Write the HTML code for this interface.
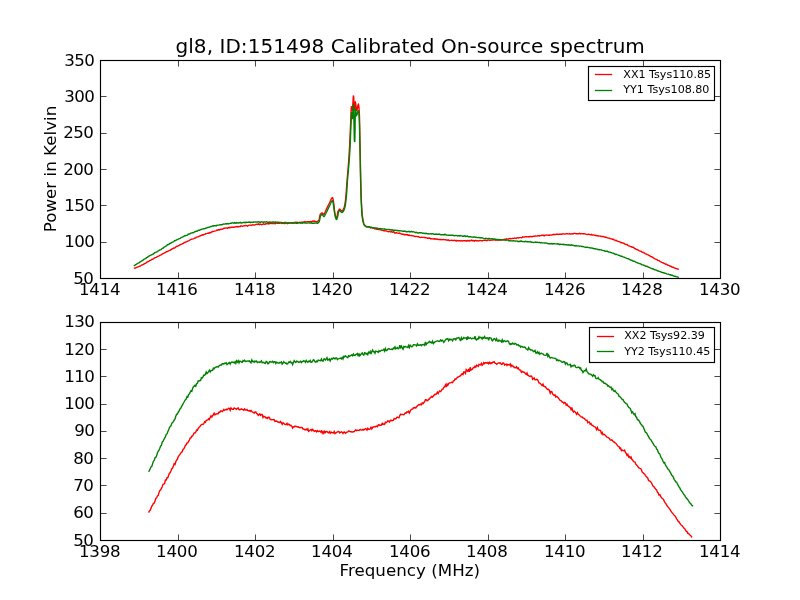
<!DOCTYPE html>
<html lang="en"><head><meta charset="utf-8"><title>gl8, ID:151498 Calibrated On-source spectrum</title>
<style>
html,body{margin:0;padding:0;background:#fff;}
body{width:800px;height:600px;overflow:hidden;}
svg{display:block;}
text{font-family:"DejaVu Sans", "Liberation Sans", sans-serif;fill:#000;}
.tk{font-size:16.67px;letter-spacing:-0.2px;}
.yk{letter-spacing:-0.6px;}
.lb{font-size:16.67px;letter-spacing:0.03px;}
.ti{font-size:20px;letter-spacing:0.05px;}
.lg{font-size:11.11px;letter-spacing:0px;}
.ax{stroke:#000;stroke-width:1.15;fill:none;stroke-linejoin:miter;}
.cv{fill:none;stroke-width:1.4;stroke-linejoin:miter;stroke-miterlimit:3;stroke-linecap:butt;}
</style></head><body>
<svg width="800" height="600" viewBox="0 0 800 600">
<rect x="0" y="0" width="800" height="600" fill="#ffffff"/>
<clipPath id="c1"><rect x="100.5" y="60.5" width="620.0" height="218.0"/></clipPath>
<g clip-path="url(#c1)">
<path class="cv" stroke="#ff0000" d="M133.8,268.3L134.6,268.1L135.4,268.0L136.2,267.5L137.0,267.1L137.8,267.0L138.6,266.7L139.4,266.3L140.2,266.0L141.0,265.5L141.8,264.9L142.6,264.9L143.4,264.4L144.2,263.9L145.0,263.4L145.8,263.1L146.6,262.4L147.4,261.9L148.2,261.5L149.0,261.2L149.8,260.4L150.6,260.4L151.4,259.7L152.2,259.2L153.0,259.1L153.8,258.5L154.6,257.9L155.4,257.6L156.2,257.4L157.0,257.0L157.8,256.4L158.6,256.1L159.4,255.7L160.2,255.1L161.0,254.8L161.8,254.3L162.6,253.8L163.4,253.4L164.2,253.1L165.0,252.6L165.8,252.1L166.6,251.7L167.4,251.6L168.2,251.0L169.0,250.7L169.8,250.3L170.6,249.8L171.4,249.7L172.2,248.7L173.0,248.6L173.8,248.0L174.6,248.0L175.4,247.5L176.2,246.5L177.0,246.2L177.8,246.1L178.6,245.7L179.4,245.3L180.2,244.7L181.0,244.4L181.8,244.1L182.6,243.6L183.4,243.4L184.2,242.4L185.0,242.5L185.8,241.9L186.6,241.9L187.4,241.3L188.2,240.8L189.0,240.6L189.8,240.0L190.6,239.7L191.4,239.2L192.2,239.1L193.0,238.9L193.8,238.6L194.6,238.1L195.4,238.0L196.2,237.4L197.0,237.1L197.8,236.9L198.6,236.7L199.4,236.1L200.2,235.8L201.0,235.5L201.8,235.3L202.6,234.8L203.4,234.9L204.2,234.3L205.0,234.2L205.8,233.7L206.6,233.6L207.4,233.4L208.2,233.0L209.0,233.2L209.8,232.6L210.6,232.7L211.4,232.2L212.2,231.7L213.0,231.5L213.8,231.4L214.6,231.1L215.4,230.9L216.2,230.6L217.0,230.1L217.8,230.2L218.6,229.6L219.4,229.9L220.2,229.5L221.0,229.3L221.8,229.2L222.6,229.1L223.4,228.5L224.2,228.3L225.0,228.3L225.8,227.9L226.6,227.9L227.4,228.4L228.2,227.6L229.0,227.9L229.8,227.3L230.6,227.5L231.4,227.3L232.2,227.2L233.0,227.3L233.8,227.4L234.6,227.0L235.4,226.9L236.2,226.5L237.0,226.8L237.8,226.5L238.6,226.7L239.4,226.4L240.2,226.7L241.0,225.8L241.8,226.1L242.6,226.3L243.4,225.9L244.2,225.7L245.0,225.7L245.8,225.4L246.6,225.7L247.4,226.1L248.2,225.7L249.0,225.1L249.8,225.1L250.6,225.1L251.4,225.4L252.2,224.9L253.0,224.8L253.8,225.1L254.6,225.0L255.4,224.7L256.2,224.4L257.0,224.2L257.8,224.4L258.6,223.9L259.4,224.6L260.2,224.2L261.0,224.4L261.8,224.7L262.6,224.4L263.4,223.8L264.2,224.2L265.0,224.3L265.8,223.8L266.6,223.7L267.4,223.8L268.2,223.4L269.0,224.1L269.8,223.1L270.6,223.4L271.4,223.5L272.2,223.5L273.0,223.5L273.8,223.5L274.6,223.4L275.4,223.7L276.2,222.8L277.0,223.3L277.8,223.1L278.6,223.3L279.4,223.3L280.2,223.0L281.0,223.0L281.8,223.4L282.6,223.2L283.4,223.0L284.2,223.6L285.0,223.6L285.8,222.7L286.6,223.1L287.4,223.6L288.2,223.2L289.0,223.0L289.8,222.9L290.6,222.7L291.4,222.8L292.2,222.7L293.0,222.9L293.8,222.6L294.6,222.5L295.4,222.3L296.2,222.5L297.0,222.3L297.8,222.4L298.6,222.6L299.4,222.4L300.2,222.4L301.0,222.3L301.8,222.2L302.6,222.1L303.4,222.0L304.2,222.2L305.0,221.7L305.8,222.2L306.6,221.9L307.4,221.6L308.2,221.6L309.0,221.6L309.8,221.7L310.6,221.5L311.4,221.9L312.2,221.4L313.0,221.0L313.8,221.4L314.6,221.1L315.4,221.5L316.2,221.8L317.0,221.7L317.5,221.5L317.7,221.4L317.9,221.3L318.1,221.1L318.3,220.8L318.5,220.5L318.7,220.1L318.9,219.7L319.0,219.5L319.1,219.2L319.3,218.5L319.5,217.6L319.7,216.5L319.9,215.6L320.1,214.8L320.2,214.5L320.3,214.4L320.5,214.1L320.7,213.9L320.9,213.7L321.1,213.5L321.3,213.3L321.5,213.1L321.7,213.1L321.9,213.0L322.0,213.0L322.1,213.0L322.3,213.1L322.5,213.2L322.7,213.4L322.9,213.5L323.1,213.7L323.3,213.9L323.5,214.1L323.7,214.2L323.9,214.2L324.0,214.2L324.1,214.2L324.3,214.0L324.5,213.5L324.7,213.0L324.9,212.4L325.1,211.9L325.2,211.5L325.3,211.4L325.5,211.0L325.7,210.6L325.9,210.1L326.1,209.7L326.3,209.3L326.5,208.9L326.7,208.5L326.9,208.1L327.1,207.7L327.3,207.3L327.5,206.9L327.7,206.5L327.9,206.1L328.1,205.7L328.3,205.3L328.5,205.0L328.7,204.6L328.9,204.2L329.0,204.0L329.1,203.8L329.3,203.4L329.5,203.0L329.7,202.5L329.9,202.0L330.1,201.6L330.3,201.1L330.5,200.6L330.7,200.2L330.9,199.7L331.1,199.3L331.3,198.9L331.5,198.6L331.7,198.3L331.9,198.1L332.1,197.9L332.3,197.8L332.5,197.8L332.5,197.8L332.7,198.0L332.9,198.6L333.1,199.6L333.3,200.7L333.5,201.9L333.6,202.5L333.7,203.1L333.9,204.8L334.1,206.7L334.3,208.7L334.5,210.6L334.7,212.0L334.7,212.0L334.9,213.2L335.1,214.2L335.3,215.2L335.5,215.9L335.7,216.5L335.7,216.5L335.9,216.9L336.1,217.3L336.3,217.6L336.5,217.8L336.6,217.8L336.7,217.7L336.9,217.2L337.1,216.2L337.3,215.0L337.5,213.8L337.7,212.6L337.9,211.8L338.0,211.5L338.1,211.3L338.3,210.9L338.5,210.5L338.7,210.2L338.9,209.9L339.1,209.6L339.3,209.4L339.5,209.3L339.7,209.3L339.8,209.2L339.9,209.3L340.1,209.4L340.3,209.5L340.5,209.7L340.7,209.9L340.9,210.2L341.1,210.4L341.3,210.6L341.5,210.8L341.7,210.9L341.9,211.0L342.0,211.0L342.1,211.0L342.3,210.9L342.5,210.7L342.7,210.4L342.9,210.1L343.1,209.8L343.2,209.5L343.3,209.4L343.5,209.0L343.7,208.6L343.9,208.0L344.1,207.4L344.3,206.7L344.5,206.0L344.5,206.0L344.7,205.1L344.9,204.1L345.1,202.9L345.3,201.5L345.5,200.0L345.5,200.0L345.7,198.2L345.9,196.1L346.0,195.0L346.1,193.8L346.3,191.2L346.5,188.4L346.7,185.5L346.9,182.7L347.1,180.0L347.1,180.0L347.3,177.6L347.5,175.3L347.7,173.1L347.9,170.8L348.1,168.5L348.3,166.0L348.3,166.0L348.5,163.3L348.7,160.6L348.9,157.7L349.1,154.7L349.3,151.4L349.5,148.0L349.5,148.0L349.7,144.1L349.9,139.8L350.1,135.3L350.3,130.6L350.5,126.1L350.6,124.0L350.7,121.7L350.9,116.6L351.1,111.4L351.3,107.6L351.5,106.0L351.5,106.0L351.7,106.8L351.9,108.5L352.1,110.2L352.3,111.0L352.3,111.0L352.5,109.9L352.7,107.0L352.9,103.3L353.1,99.5L353.3,96.6L353.5,95.5L353.5,95.5L353.7,97.1L353.9,100.8L354.1,105.2L354.3,108.9L354.5,110.5L354.5,110.5L354.7,109.5L354.9,107.1L355.1,104.4L355.3,102.5L355.4,102.2L355.5,102.4L355.7,103.3L355.9,104.8L356.1,106.6L356.3,108.4L356.5,109.8L356.7,110.5L356.8,110.5L356.9,110.4L357.1,109.8L357.3,108.9L357.5,107.8L357.7,106.7L357.9,105.6L358.1,104.8L358.3,104.3L358.4,104.2L358.5,104.4L358.7,105.3L358.9,107.0L359.1,109.3L359.3,112.0L359.3,112.0L359.5,117.3L359.7,126.2L359.9,136.9L360.1,147.6L360.1,150.0L360.3,157.6L360.5,168.5L360.7,178.7L360.9,185.0L360.9,186.8L361.1,193.5L361.3,199.4L361.5,204.0L361.6,205.0L361.7,207.6L361.9,210.5L362.1,213.0L362.3,215.0L362.3,215.0L362.5,216.7L362.7,218.2L362.9,219.5L363.1,220.6L363.3,221.5L363.3,221.5L363.5,222.3L363.7,223.0L363.9,223.7L364.1,224.2L364.3,224.7L364.5,225.0L364.5,225.0L364.7,225.3L364.9,225.5L365.1,225.7L365.3,225.9L365.5,226.1L365.7,226.2L365.9,226.3L366.1,226.4L366.3,226.5L366.5,226.6L366.6,226.7L367.4,226.6L368.2,226.7L369.0,226.7L369.8,227.5L370.6,227.9L371.4,227.6L372.2,227.6L373.0,228.1L373.8,228.2L374.6,228.7L375.4,228.8L376.2,229.0L377.0,229.3L377.8,229.3L378.6,229.5L379.4,229.5L380.2,229.9L381.0,229.9L381.8,230.4L382.6,230.4L383.4,230.7L384.2,231.0L385.0,230.7L385.8,230.9L386.6,231.0L387.4,231.4L388.2,231.7L389.0,231.6L389.8,231.5L390.6,232.0L391.4,231.5L392.2,232.3L393.0,232.0L393.8,231.7L394.6,233.0L395.4,233.0L396.2,232.6L397.0,233.0L397.8,233.1L398.6,233.3L399.4,233.1L400.2,233.5L401.0,233.9L401.8,234.0L402.6,234.3L403.4,234.3L404.2,234.9L405.0,234.4L405.8,234.8L406.6,234.5L407.4,234.7L408.2,235.4L409.0,235.1L409.8,235.5L410.6,235.6L411.4,235.5L412.2,235.8L413.0,235.9L413.8,236.0L414.6,236.4L415.4,236.5L416.2,236.4L417.0,236.4L417.8,236.8L418.6,236.8L419.4,237.2L420.2,237.6L421.0,237.4L421.8,237.3L422.6,237.4L423.4,237.4L424.2,237.5L425.0,237.5L425.8,237.8L426.6,237.9L427.4,238.2L428.2,238.0L429.0,238.2L429.8,238.1L430.6,238.7L431.4,238.6L432.2,238.9L433.0,238.8L433.8,239.0L434.6,238.8L435.4,239.0L436.2,239.5L437.0,238.8L437.8,239.4L438.6,239.5L439.4,239.4L440.2,239.5L441.0,239.7L441.8,239.4L442.6,239.7L443.4,239.5L444.2,239.6L445.0,239.7L445.8,239.9L446.6,240.0L447.4,240.2L448.2,239.8L449.0,240.6L449.8,240.5L450.6,240.4L451.4,240.3L452.2,240.4L453.0,240.5L453.8,240.5L454.6,240.2L455.4,240.7L456.2,241.2L457.0,240.3L457.8,240.8L458.6,240.8L459.4,240.7L460.2,241.0L461.0,240.5L461.8,240.8L462.6,241.0L463.4,240.7L464.2,240.7L465.0,240.8L465.8,240.7L466.6,241.1L467.4,240.6L468.2,240.9L469.0,240.5L469.8,240.9L470.6,240.7L471.4,240.2L472.2,240.7L473.0,240.5L473.8,240.7L474.6,241.1L475.4,240.5L476.2,240.5L477.0,241.0L477.8,240.7L478.6,241.0L479.4,240.7L480.2,240.4L481.0,240.6L481.8,240.8L482.6,240.7L483.4,240.4L484.2,240.4L485.0,240.3L485.8,240.2L486.6,240.7L487.4,240.3L488.2,240.0L489.0,240.1L489.8,240.3L490.6,240.3L491.4,240.1L492.2,240.0L493.0,240.1L493.8,239.7L494.6,239.8L495.4,240.2L496.2,239.9L497.0,240.1L497.8,240.2L498.6,240.0L499.4,239.9L500.2,240.3L501.0,239.9L501.8,239.7L502.6,239.8L503.4,239.7L504.2,239.3L505.0,239.4L505.8,239.3L506.6,238.8L507.4,239.1L508.2,239.0L509.0,238.8L509.8,238.5L510.6,238.7L511.4,238.6L512.2,238.6L513.0,238.2L513.8,238.5L514.6,238.0L515.4,238.1L516.2,238.4L517.0,237.9L517.8,237.8L518.6,238.0L519.4,237.6L520.2,237.6L521.0,237.6L521.8,237.7L522.6,236.9L523.4,237.1L524.2,237.0L525.0,236.9L525.8,236.8L526.6,236.8L527.4,236.9L528.2,236.6L529.0,236.7L529.8,236.7L530.6,236.4L531.4,236.5L532.2,236.7L533.0,236.4L533.8,236.1L534.6,236.2L535.4,235.9L536.2,236.1L537.0,236.1L537.8,235.7L538.6,235.8L539.4,236.0L540.2,235.6L541.0,235.6L541.8,235.3L542.6,235.3L543.4,235.3L544.2,235.8L545.0,235.2L545.8,235.1L546.6,235.0L547.4,235.1L548.2,235.2L549.0,235.0L549.8,235.3L550.6,234.9L551.4,235.1L552.2,234.8L553.0,234.8L553.8,234.3L554.6,234.5L555.4,234.5L556.2,234.4L557.0,234.0L557.8,234.5L558.6,234.2L559.4,234.2L560.2,234.2L561.0,234.1L561.8,234.2L562.6,233.8L563.4,233.9L564.2,234.1L565.0,234.0L565.8,233.9L566.6,233.8L567.4,233.7L568.2,233.9L569.0,234.1L569.8,233.6L570.6,234.1L571.4,234.0L572.2,233.7L573.0,233.9L573.8,233.4L574.6,233.4L575.4,233.5L576.2,233.7L577.0,233.7L577.8,233.6L578.6,233.8L579.4,233.3L580.2,233.9L581.0,233.5L581.8,233.6L582.6,233.7L583.4,233.6L584.2,233.7L585.0,233.9L585.8,234.2L586.6,234.4L587.4,234.5L588.2,234.3L589.0,234.4L589.8,234.5L590.6,234.8L591.4,234.4L592.2,235.2L593.0,234.9L593.8,234.9L594.6,235.3L595.4,235.5L596.2,235.5L597.0,235.7L597.8,235.7L598.6,236.0L599.4,236.1L600.2,236.0L601.0,236.5L601.8,236.4L602.6,236.5L603.4,236.5L604.2,236.9L605.0,237.3L605.8,237.1L606.6,237.7L607.4,237.9L608.2,238.1L609.0,237.9L609.8,238.5L610.6,238.9L611.4,238.9L612.2,239.3L613.0,239.1L613.8,239.9L614.6,239.9L615.4,240.5L616.2,240.3L617.0,241.0L617.8,241.1L618.6,241.6L619.4,241.6L620.2,242.0L621.0,242.8L621.8,242.5L622.6,242.9L623.4,243.3L624.2,243.5L625.0,244.2L625.8,244.6L626.6,244.5L627.4,244.7L628.2,245.6L629.0,245.9L629.8,246.2L630.6,246.6L631.4,246.7L632.2,247.2L633.0,247.3L633.8,247.7L634.6,248.5L635.4,248.6L636.2,249.5L637.0,249.5L637.8,249.8L638.6,250.4L639.4,250.9L640.2,251.1L641.0,251.2L641.8,251.9L642.6,252.4L643.4,252.5L644.2,252.9L645.0,253.6L645.8,253.8L646.6,254.1L647.4,254.6L648.2,254.9L649.0,255.5L649.8,255.9L650.6,256.5L651.4,256.8L652.2,256.9L653.0,257.7L653.8,258.2L654.6,258.6L655.4,259.1L656.2,259.3L657.0,259.7L657.8,260.4L658.6,260.6L659.4,260.8L660.2,261.7L661.0,261.9L661.8,262.3L662.6,262.6L663.4,263.0L664.2,263.4L665.0,263.8L665.8,264.3L666.6,264.3L667.4,265.1L668.2,265.2L669.0,265.5L669.8,266.1L670.6,266.3L671.4,266.5L672.2,267.2L673.0,267.2L673.8,267.7L674.6,268.0L675.4,268.4L676.2,268.5L677.0,268.9L677.8,269.0L678.6,269.4L678.8,269.4"/>
<path class="cv" stroke="#008000" d="M133.8,266.0L134.6,265.5L135.4,264.9L136.2,264.3L137.0,263.9L137.8,263.3L138.6,262.9L139.4,262.6L140.2,261.8L141.0,261.3L141.8,261.0L142.6,260.4L143.4,259.9L144.2,259.2L145.0,258.9L145.8,258.5L146.6,257.7L147.4,257.3L148.2,256.6L149.0,256.2L149.8,255.6L150.6,255.4L151.4,254.8L152.2,254.5L153.0,254.1L153.8,253.6L154.6,252.7L155.4,252.6L156.2,252.2L157.0,251.8L157.8,251.1L158.6,250.8L159.4,250.2L160.2,249.8L161.0,249.6L161.8,248.7L162.6,248.3L163.4,247.9L164.2,247.1L165.0,246.7L165.8,246.2L166.6,245.6L167.4,244.8L168.2,244.5L169.0,244.3L169.8,243.3L170.6,243.2L171.4,242.7L172.2,242.1L173.0,242.1L173.8,241.5L174.6,240.7L175.4,240.5L176.2,240.2L177.0,239.6L177.8,239.4L178.6,238.9L179.4,238.6L180.2,238.4L181.0,237.6L181.8,237.4L182.6,236.9L183.4,236.7L184.2,236.0L185.0,235.8L185.8,235.5L186.6,235.4L187.4,235.1L188.2,234.2L189.0,234.0L189.8,234.0L190.6,233.1L191.4,233.1L192.2,232.8L193.0,232.8L193.8,232.3L194.6,231.8L195.4,231.5L196.2,231.2L197.0,231.3L197.8,230.6L198.6,230.3L199.4,230.2L200.2,229.8L201.0,229.5L201.8,229.1L202.6,229.1L203.4,228.7L204.2,228.8L205.0,228.5L205.8,228.1L206.6,228.0L207.4,227.5L208.2,227.6L209.0,227.2L209.8,227.1L210.6,226.5L211.4,226.6L212.2,226.0L213.0,225.7L213.8,225.9L214.6,225.6L215.4,225.7L216.2,226.0L217.0,225.2L217.8,225.1L218.6,225.1L219.4,225.0L220.2,224.7L221.0,224.6L221.8,224.7L222.6,224.5L223.4,224.0L224.2,224.1L225.0,224.0L225.8,223.7L226.6,223.9L227.4,223.5L228.2,223.9L229.0,223.6L229.8,223.5L230.6,223.3L231.4,223.3L232.2,222.8L233.0,222.9L233.8,223.2L234.6,222.6L235.4,223.2L236.2,222.6L237.0,223.1L237.8,222.7L238.6,223.0L239.4,222.8L240.2,222.4L241.0,223.0L241.8,223.0L242.6,222.6L243.4,222.5L244.2,222.5L245.0,222.3L245.8,222.7L246.6,222.3L247.4,222.4L248.2,222.2L249.0,222.2L249.8,222.0L250.6,222.6L251.4,222.2L252.2,222.5L253.0,222.2L253.8,222.0L254.6,222.1L255.4,222.0L256.2,222.1L257.0,222.0L257.8,222.0L258.6,221.8L259.4,221.9L260.2,222.5L261.0,221.9L261.8,221.8L262.6,222.2L263.4,222.4L264.2,221.8L265.0,222.1L265.8,222.0L266.6,221.7L267.4,222.3L268.2,222.1L269.0,222.2L269.8,222.0L270.6,222.3L271.4,222.1L272.2,222.2L273.0,222.0L273.8,221.9L274.6,222.6L275.4,222.1L276.2,222.3L277.0,222.3L277.8,222.2L278.6,222.2L279.4,222.5L280.2,222.4L281.0,222.4L281.8,222.5L282.6,222.8L283.4,222.7L284.2,222.7L285.0,222.5L285.8,222.4L286.6,223.0L287.4,223.0L288.2,222.8L289.0,223.0L289.8,223.0L290.6,223.1L291.4,223.1L292.2,222.8L293.0,223.3L293.8,222.6L294.6,223.1L295.4,223.1L296.2,223.2L297.0,223.4L297.8,223.3L298.6,222.7L299.4,222.6L300.2,223.2L301.0,222.8L301.8,223.0L302.6,223.2L303.4,222.7L304.2,222.6L305.0,223.1L305.8,223.1L306.6,223.1L307.4,223.1L308.2,222.9L309.0,222.8L309.8,223.1L310.6,223.0L311.4,222.8L312.2,223.3L313.0,223.2L313.8,223.3L314.6,223.0L315.4,223.1L316.2,223.0L317.0,223.0L317.5,223.2L317.7,223.2L317.9,223.1L318.1,223.0L318.3,222.8L318.5,222.6L318.7,222.3L318.9,222.1L319.1,221.7L319.2,221.5L319.3,221.4L319.5,220.7L319.7,219.7L319.9,218.6L320.1,217.5L320.3,216.6L320.5,216.0L320.5,216.0L320.7,215.7L320.9,215.4L321.1,215.1L321.3,214.9L321.5,214.7L321.7,214.6L321.9,214.5L322.0,214.5L322.1,214.5L322.3,214.6L322.5,214.8L322.7,215.1L322.9,215.4L323.1,215.6L323.3,215.9L323.5,216.2L323.7,216.4L323.9,216.5L324.0,216.5L324.1,216.5L324.3,216.3L324.5,216.1L324.7,215.7L324.9,215.3L325.1,214.8L325.3,214.4L325.5,214.0L325.5,214.0L325.7,213.6L325.9,213.3L326.1,212.9L326.3,212.5L326.5,212.1L326.7,211.7L326.9,211.3L327.1,210.9L327.3,210.4L327.5,210.0L327.7,209.6L327.9,209.2L328.1,208.8L328.3,208.4L328.5,208.0L328.7,207.6L328.9,207.2L329.0,207.0L329.1,206.8L329.3,206.4L329.5,206.0L329.7,205.5L329.9,205.0L330.1,204.6L330.3,204.1L330.5,203.6L330.7,203.2L330.9,202.7L331.1,202.3L331.3,201.9L331.5,201.6L331.7,201.3L331.9,201.1L332.1,200.9L332.3,200.8L332.5,200.8L332.5,200.8L332.7,201.0L332.9,201.7L333.1,202.7L333.3,203.9L333.5,205.0L333.5,205.0L333.7,206.3L333.9,207.8L334.1,209.5L334.3,211.1L334.5,212.5L334.5,212.5L334.7,213.7L334.9,214.8L335.1,215.9L335.3,216.8L335.5,217.5L335.5,217.5L335.7,218.1L335.9,218.6L336.1,219.1L336.3,219.4L336.5,219.5L336.5,219.5L336.7,219.4L336.9,219.0L337.1,218.4L337.3,217.7L337.5,217.0L337.7,216.2L337.8,216.0L337.9,215.3L338.1,214.0L338.3,212.7L338.5,212.0L338.5,212.0L338.7,211.7L338.9,211.4L339.1,211.1L339.3,210.9L339.5,210.8L339.7,210.8L339.8,210.8L339.9,210.8L340.1,210.9L340.3,211.0L340.5,211.2L340.7,211.4L340.9,211.7L341.1,211.9L341.3,212.1L341.5,212.3L341.7,212.4L341.9,212.5L342.0,212.5L342.1,212.5L342.3,212.4L342.5,212.3L342.7,212.1L342.9,211.8L343.1,211.6L343.3,211.3L343.5,211.0L343.5,211.0L343.7,210.7L343.9,210.3L344.1,209.9L344.3,209.3L344.5,208.8L344.7,208.1L344.9,207.4L345.0,207.0L345.1,206.6L345.3,205.4L345.5,204.1L345.7,202.5L345.9,200.8L346.0,200.0L346.1,199.1L346.3,197.2L346.5,195.0L346.5,195.0L346.7,192.3L346.9,189.3L347.1,186.0L347.3,182.8L347.5,180.0L347.5,180.0L347.7,177.6L347.9,175.3L348.1,173.2L348.3,171.1L348.5,169.0L348.7,166.6L348.8,166.0L348.9,164.1L349.1,161.6L349.3,158.9L349.5,156.1L349.7,153.1L349.9,149.8L350.0,148.0L350.1,146.1L350.3,141.5L350.5,136.4L350.7,131.2L350.9,126.3L351.0,124.0L351.1,121.6L351.3,116.4L351.5,112.6L351.6,112.0L351.7,112.4L351.9,114.8L352.1,117.6L352.3,119.0L352.3,119.0L352.5,117.9L352.7,115.1L352.9,111.5L353.1,107.9L353.3,105.1L353.5,104.0L353.5,104.0L353.7,109.0L353.9,119.2L354.0,124.0L354.1,129.2L354.3,139.0L354.4,140.0L354.5,141.3L354.7,142.0L354.7,142.0L354.9,139.3L354.9,138.0L355.1,127.7L355.1,124.0L355.3,113.1L355.4,109.5L355.5,109.6L355.7,110.6L355.9,112.1L356.1,113.7L356.3,115.0L356.5,115.5L356.5,115.5L356.7,115.3L356.9,114.9L357.1,114.2L357.3,113.4L357.5,112.6L357.7,111.9L357.9,111.2L358.1,110.8L358.2,110.8L358.3,110.8L358.5,111.3L358.7,112.4L358.9,114.0L359.1,116.0L359.1,116.0L359.3,120.1L359.5,127.2L359.7,136.1L359.9,145.5L360.0,150.0L360.1,154.7L360.3,165.3L360.5,176.1L360.7,185.0L360.7,185.0L360.9,191.8L361.1,197.8L361.3,202.8L361.4,205.0L361.5,207.1L361.7,210.8L361.9,213.9L362.0,215.0L362.1,215.9L362.3,217.6L362.5,219.0L362.7,220.1L362.9,221.1L363.0,221.5L363.1,221.9L363.3,222.6L363.5,223.3L363.7,223.9L363.9,224.4L364.1,224.8L364.2,225.0L364.3,225.1L364.5,225.3L364.7,225.5L364.9,225.7L365.1,225.9L365.3,226.1L365.5,226.3L365.7,226.4L365.9,226.5L366.1,226.6L366.3,226.7L366.5,226.8L366.6,226.7L367.4,226.8L368.2,227.0L369.0,227.0L369.8,227.0L370.6,227.3L371.4,227.2L372.2,227.7L373.0,227.7L373.8,227.9L374.6,227.9L375.4,227.9L376.2,228.0L377.0,228.3L377.8,228.3L378.6,228.6L379.4,228.7L380.2,228.5L381.0,228.9L381.8,228.7L382.6,228.9L383.4,229.1L384.2,228.8L385.0,229.3L385.8,229.4L386.6,229.4L387.4,229.4L388.2,229.5L389.0,229.5L389.8,229.7L390.6,229.7L391.4,230.0L392.2,229.8L393.0,230.2L393.8,230.2L394.6,230.3L395.4,230.3L396.2,230.6L397.0,230.2L397.8,230.7L398.6,230.8L399.4,230.8L400.2,230.9L401.0,230.8L401.8,230.9L402.6,231.2L403.4,231.2L404.2,231.3L405.0,231.0L405.8,231.5L406.6,231.7L407.4,231.7L408.2,231.6L409.0,231.3L409.8,231.9L410.6,231.8L411.4,231.3L412.2,232.0L413.0,231.7L413.8,231.9L414.6,232.1L415.4,232.6L416.2,232.3L417.0,232.6L417.8,233.0L418.6,233.0L419.4,232.8L420.2,232.8L421.0,232.7L421.8,232.9L422.6,233.2L423.4,233.3L424.2,233.3L425.0,233.6L425.8,233.3L426.6,233.5L427.4,233.8L428.2,233.8L429.0,234.0L429.8,233.9L430.6,233.8L431.4,234.0L432.2,233.8L433.0,233.7L433.8,234.3L434.6,234.2L435.4,234.3L436.2,234.0L437.0,234.3L437.8,234.3L438.6,234.3L439.4,234.0L440.2,234.5L441.0,234.8L441.8,234.7L442.6,234.6L443.4,234.7L444.2,234.9L445.0,234.2L445.8,234.8L446.6,235.0L447.4,235.1L448.2,235.3L449.0,235.3L449.8,235.1L450.6,235.2L451.4,235.3L452.2,235.1L453.0,235.3L453.8,235.5L454.6,235.8L455.4,235.4L456.2,235.5L457.0,235.6L457.8,235.9L458.6,235.7L459.4,236.0L460.2,235.6L461.0,235.8L461.8,235.9L462.6,236.2L463.4,236.3L464.2,235.8L465.0,236.0L465.8,236.4L466.6,236.2L467.4,236.1L468.2,236.7L469.0,236.7L469.8,236.8L470.6,236.7L471.4,237.1L472.2,236.9L473.0,237.3L473.8,236.9L474.6,237.0L475.4,237.3L476.2,237.2L477.0,237.6L477.8,237.6L478.6,237.4L479.4,237.7L480.2,237.7L481.0,238.0L481.8,237.8L482.6,237.9L483.4,238.3L484.2,238.6L485.0,238.6L485.8,238.3L486.6,238.4L487.4,238.8L488.2,238.5L489.0,238.4L489.8,238.7L490.6,238.9L491.4,238.7L492.2,238.6L493.0,238.8L493.8,239.2L494.6,239.0L495.4,239.2L496.2,239.4L497.0,239.5L497.8,239.4L498.6,239.7L499.4,239.5L500.2,239.6L501.0,239.6L501.8,240.1L502.6,239.9L503.4,239.9L504.2,240.0L505.0,240.1L505.8,240.3L506.6,240.0L507.4,240.1L508.2,240.3L509.0,241.0L509.8,240.7L510.6,240.6L511.4,240.8L512.2,241.1L513.0,240.7L513.8,240.8L514.6,241.1L515.4,241.0L516.2,241.1L517.0,241.0L517.8,241.5L518.6,241.5L519.4,241.3L520.2,241.4L521.0,240.9L521.8,241.5L522.6,241.4L523.4,241.6L524.2,241.7L525.0,241.5L525.8,241.3L526.6,241.8L527.4,241.6L528.2,241.8L529.0,241.8L529.8,241.9L530.6,241.6L531.4,242.3L532.2,242.2L533.0,242.4L533.8,242.6L534.6,242.3L535.4,242.0L536.2,242.2L537.0,242.2L537.8,242.4L538.6,242.6L539.4,242.3L540.2,242.8L541.0,242.5L541.8,242.9L542.6,242.9L543.4,242.9L544.2,243.0L545.0,243.0L545.8,243.1L546.6,242.9L547.4,243.3L548.2,243.7L549.0,243.8L549.8,243.7L550.6,243.7L551.4,243.5L552.2,243.9L553.0,243.7L553.8,243.8L554.6,243.8L555.4,243.9L556.2,243.9L557.0,244.0L557.8,243.8L558.6,244.0L559.4,244.6L560.2,244.2L561.0,244.2L561.8,244.4L562.6,244.5L563.4,244.3L564.2,244.5L565.0,244.8L565.8,244.7L566.6,244.8L567.4,245.1L568.2,244.8L569.0,245.0L569.8,244.9L570.6,245.4L571.4,244.8L572.2,245.2L573.0,245.3L573.8,245.6L574.6,245.7L575.4,245.9L576.2,245.5L577.0,246.0L577.8,245.9L578.6,245.9L579.4,246.3L580.2,246.1L581.0,246.1L581.8,246.5L582.6,246.4L583.4,246.7L584.2,247.0L585.0,247.1L585.8,247.5L586.6,247.3L587.4,247.2L588.2,247.5L589.0,247.6L589.8,247.7L590.6,248.1L591.4,248.0L592.2,247.9L593.0,248.5L593.8,248.5L594.6,248.7L595.4,248.8L596.2,249.1L597.0,249.1L597.8,249.5L598.6,249.5L599.4,249.7L600.2,249.9L601.0,249.7L601.8,250.1L602.6,250.3L603.4,250.6L604.2,250.5L605.0,251.2L605.8,251.2L606.6,251.2L607.4,251.3L608.2,251.8L609.0,252.0L609.8,252.1L610.6,252.5L611.4,252.6L612.2,253.1L613.0,253.1L613.8,253.5L614.6,253.9L615.4,254.5L616.2,254.2L617.0,254.6L617.8,254.8L618.6,255.4L619.4,255.4L620.2,255.8L621.0,256.2L621.8,256.3L622.6,256.7L623.4,257.0L624.2,257.1L625.0,257.5L625.8,258.0L626.6,258.4L627.4,258.6L628.2,258.7L629.0,259.2L629.8,259.7L630.6,260.0L631.4,260.3L632.2,260.5L633.0,261.0L633.8,261.2L634.6,261.4L635.4,261.8L636.2,262.4L637.0,262.6L637.8,263.0L638.6,263.1L639.4,263.6L640.2,263.7L641.0,264.1L641.8,264.8L642.6,264.9L643.4,265.0L644.2,265.4L645.0,265.8L645.8,266.2L646.6,266.3L647.4,266.5L648.2,267.0L649.0,267.3L649.8,267.7L650.6,268.1L651.4,268.3L652.2,268.7L653.0,268.8L653.8,269.3L654.6,269.8L655.4,269.9L656.2,270.2L657.0,270.5L657.8,271.0L658.6,271.0L659.4,271.4L660.2,271.7L661.0,272.0L661.8,272.2L662.6,272.6L663.4,272.7L664.2,273.0L665.0,273.3L665.8,273.4L666.6,273.8L667.4,274.1L668.2,274.1L669.0,274.4L669.8,274.8L670.6,274.8L671.4,275.2L672.2,275.3L673.0,275.7L673.8,276.1L674.6,276.3L675.4,276.3L676.2,276.7L677.0,276.9L677.8,277.2L678.6,277.5L678.8,277.5"/>
</g>
<rect class="ax" x="100.5" y="60.5" width="620.0" height="218.0"/>
<path d="M178.5,278.0v-5.56M178.5,61.0v5.56M255.5,278.0v-5.56M255.5,61.0v5.56M333.5,278.0v-5.56M333.5,61.0v5.56M410.5,278.0v-5.56M410.5,61.0v5.56M488.5,278.0v-5.56M488.5,61.0v5.56M565.5,278.0v-5.56M565.5,61.0v5.56M643.5,278.0v-5.56M643.5,61.0v5.56M101.0,242.5h5.56M720.0,242.5h-5.56M101.0,205.5h5.56M720.0,205.5h-5.56M101.0,169.5h5.56M720.0,169.5h-5.56M101.0,133.5h5.56M720.0,133.5h-5.56M101.0,96.5h5.56M720.0,96.5h-5.56" stroke="#4a4a4a" stroke-width="1" fill="none"/>
<text class="tk" x="99.70" y="294.80" text-anchor="middle">1414</text>
<text class="tk" x="176.80" y="294.80" text-anchor="middle">1416</text>
<text class="tk" x="254.70" y="294.80" text-anchor="middle">1418</text>
<text class="tk" x="331.80" y="294.80" text-anchor="middle">1420</text>
<text class="tk" x="409.70" y="294.80" text-anchor="middle">1422</text>
<text class="tk" x="486.80" y="294.80" text-anchor="middle">1424</text>
<text class="tk" x="564.70" y="294.80" text-anchor="middle">1426</text>
<text class="tk" x="641.80" y="294.80" text-anchor="middle">1428</text>
<text class="tk" x="719.70" y="294.80" text-anchor="middle">1430</text>
<text class="tk yk" x="93.15" y="283.50" text-anchor="end">50</text>
<text class="tk yk" x="94.15" y="246.50" text-anchor="end">100</text>
<text class="tk yk" x="94.15" y="210.50" text-anchor="end">150</text>
<text class="tk yk" x="93.15" y="174.50" text-anchor="end">200</text>
<text class="tk yk" x="93.15" y="137.50" text-anchor="end">250</text>
<text class="tk yk" x="94.15" y="101.50" text-anchor="end">300</text>
<text class="tk yk" x="94.15" y="65.50" text-anchor="end">350</text>
<rect class="ax" x="588.5" y="66.5" width="126" height="34" style="fill:#fff"/>
<path d="M594.9,74.5H612.2" stroke="#ff0000" stroke-width="1.3" fill="none"/>
<text class="lg" x="623.3" y="78.2">XX1 Tsys110.85</text>
<path d="M594.9,90.5H612.2" stroke="#008000" stroke-width="1.3" fill="none"/>
<text class="lg" x="623.3" y="93.2">YY1 Tsys108.80</text>
<clipPath id="c2"><rect x="100.5" y="322.5" width="620.0" height="218.0"/></clipPath>
<g clip-path="url(#c2)">
<path class="cv" stroke="#ff0000" d="M148.6,512.6L149.4,510.9L150.2,510.3L151.0,508.3L151.8,506.2L152.6,505.1L153.4,503.3L154.2,503.2L155.0,500.9L155.8,498.5L156.6,497.9L157.4,496.0L158.2,495.5L159.0,492.6L159.8,490.5L160.6,490.1L161.4,488.4L162.2,486.8L163.0,484.4L163.8,484.2L164.6,483.3L165.4,480.0L166.2,480.1L167.0,477.7L167.8,477.7L168.6,475.2L169.4,473.4L170.2,472.6L171.0,470.8L171.8,468.7L172.6,468.0L173.4,465.9L174.2,463.7L175.0,464.4L175.8,461.7L176.6,460.1L177.4,459.3L178.2,456.8L179.0,455.6L179.8,454.7L180.6,453.3L181.4,452.3L182.2,451.7L183.0,449.4L183.8,448.7L184.6,447.5L185.4,445.3L186.2,444.8L187.0,442.9L187.8,442.9L188.6,441.4L189.4,440.0L190.2,438.0L191.0,437.8L191.8,436.2L192.6,436.0L193.4,434.4L194.2,433.0L195.0,433.0L195.8,431.9L196.6,430.1L197.4,430.3L198.2,428.4L199.0,427.5L199.8,426.9L200.6,425.5L201.4,424.8L202.2,424.2L203.0,424.5L203.8,423.7L204.6,421.8L205.4,422.3L206.2,420.5L207.0,420.1L207.8,419.8L208.6,418.7L209.4,419.5L210.2,417.5L211.0,415.9L211.8,417.1L212.6,415.4L213.4,415.0L214.2,412.6L215.0,414.9L215.8,414.3L216.6,413.9L217.4,413.6L218.2,413.7L219.0,412.2L219.8,412.5L220.6,411.0L221.4,411.0L222.2,411.6L223.0,410.9L223.8,409.5L224.6,410.4L225.4,409.8L226.2,409.2L227.0,409.9L227.8,409.1L228.6,408.2L229.4,408.4L230.2,410.3L231.0,407.9L231.8,409.0L232.6,409.2L233.4,409.2L234.2,407.9L235.0,408.5L235.8,408.8L236.6,409.3L237.4,408.3L238.2,408.0L239.0,409.6L239.8,409.8L240.6,409.3L241.4,408.8L242.2,409.6L243.0,409.5L243.8,410.2L244.6,408.9L245.4,410.0L246.2,410.0L247.0,409.5L247.8,410.6L248.6,410.7L249.4,410.6L250.2,411.4L251.0,410.4L251.8,411.6L252.6,412.2L253.4,412.3L254.2,413.2L255.0,411.9L255.8,411.9L256.6,413.4L257.4,413.9L258.2,415.3L259.0,414.6L259.8,413.9L260.6,415.3L261.4,414.5L262.2,414.4L263.0,417.5L263.8,416.2L264.6,416.8L265.4,417.0L266.2,418.2L267.0,417.5L267.8,418.4L268.6,417.2L269.4,417.3L270.2,419.5L271.0,419.8L271.8,419.5L272.6,419.6L273.4,419.8L274.2,419.6L275.0,421.3L275.8,421.0L276.6,421.2L277.4,421.4L278.2,422.2L279.0,422.1L279.8,422.5L280.6,421.5L281.4,422.9L282.2,424.3L283.0,422.8L283.8,423.3L284.6,424.2L285.4,424.5L286.2,424.5L287.0,423.3L287.8,424.9L288.6,424.1L289.4,424.6L290.2,425.7L291.0,425.4L291.8,426.3L292.6,428.1L293.4,426.8L294.2,426.9L295.0,426.1L295.8,426.5L296.6,426.4L297.4,427.0L298.2,426.8L299.0,427.3L299.8,427.8L300.6,427.5L301.4,427.4L302.2,427.6L303.0,429.0L303.8,428.9L304.6,429.7L305.4,429.9L306.2,429.1L307.0,429.9L307.8,428.8L308.6,431.3L309.4,430.7L310.2,430.0L311.0,429.5L311.8,430.7L312.6,429.4L313.4,430.2L314.2,431.3L315.0,431.0L315.8,430.7L316.6,431.8L317.4,430.6L318.2,431.6L319.0,431.2L319.8,431.0L320.6,432.0L321.4,431.1L322.2,433.1L323.0,431.6L323.8,433.3L324.6,431.4L325.4,432.5L326.2,431.5L327.0,431.4L327.8,432.4L328.6,432.8L329.4,431.6L330.2,433.2L331.0,432.0L331.8,432.6L332.6,432.8L333.4,433.0L334.2,431.5L335.0,433.6L335.8,433.0L336.6,432.4L337.4,432.0L338.2,431.5L339.0,431.7L339.8,432.9L340.6,432.3L341.4,431.8L342.2,432.2L343.0,433.5L343.8,432.2L344.6,432.0L345.4,433.2L346.2,432.6L347.0,432.2L347.8,431.8L348.6,431.1L349.4,431.2L350.2,431.6L351.0,431.7L351.8,432.0L352.6,432.0L353.4,431.7L354.2,431.6L355.0,430.7L355.8,429.8L356.6,430.7L357.4,430.3L358.2,430.4L359.0,430.5L359.8,429.7L360.6,429.6L361.4,430.1L362.2,430.1L363.0,429.4L363.8,430.0L364.6,429.3L365.4,428.6L366.2,429.1L367.0,430.1L367.8,428.3L368.6,429.2L369.4,429.2L370.2,429.0L371.0,427.3L371.8,428.9L372.6,427.4L373.4,427.0L374.2,426.7L375.0,427.0L375.8,426.4L376.6,426.0L377.4,426.7L378.2,425.1L379.0,424.6L379.8,425.5L380.6,425.2L381.4,425.1L382.2,423.4L383.0,424.5L383.8,423.8L384.6,424.4L385.4,422.1L386.2,422.7L387.0,422.1L387.8,420.9L388.6,421.1L389.4,422.0L390.2,420.6L391.0,420.1L391.8,420.8L392.6,420.5L393.4,420.1L394.2,418.6L395.0,418.7L395.8,419.0L396.6,417.5L397.4,417.1L398.2,417.7L399.0,417.8L399.8,415.6L400.6,414.2L401.4,414.6L402.2,414.4L403.0,414.6L403.8,414.7L404.6,413.8L405.4,412.9L406.2,413.1L407.0,411.9L407.8,412.1L408.6,411.2L409.4,413.0L410.2,411.3L411.0,409.7L411.8,409.1L412.6,409.0L413.4,407.7L414.2,407.9L415.0,407.4L415.8,408.0L416.6,406.6L417.4,405.9L418.2,405.0L419.0,404.6L419.8,404.9L420.6,404.2L421.4,404.7L422.2,402.9L423.0,403.6L423.8,402.5L424.6,401.8L425.4,399.8L426.2,399.8L427.0,400.7L427.8,400.6L428.6,399.2L429.4,399.1L430.2,397.7L431.0,397.1L431.8,396.4L432.6,397.0L433.4,396.0L434.2,395.0L435.0,394.3L435.8,394.4L436.6,393.6L437.4,392.2L438.2,393.5L439.0,391.8L439.8,391.0L440.6,391.5L441.4,390.6L442.2,389.1L443.0,389.0L443.8,387.2L444.6,386.9L445.4,385.0L446.2,387.1L447.0,384.1L447.8,385.4L448.6,383.7L449.4,382.9L450.2,382.9L451.0,382.7L451.8,382.3L452.6,382.6L453.4,380.9L454.2,380.7L455.0,379.0L455.8,379.4L456.6,378.4L457.4,377.3L458.2,377.0L459.0,376.5L459.8,376.1L460.6,375.7L461.4,374.5L462.2,373.7L463.0,374.4L463.8,371.9L464.6,372.2L465.4,373.4L466.2,369.6L467.0,370.7L467.8,371.3L468.6,369.0L469.4,371.9L470.2,367.3L471.0,370.1L471.8,369.7L472.6,368.8L473.4,367.5L474.2,367.6L475.0,366.2L475.8,367.2L476.6,365.3L477.4,365.7L478.2,366.4L479.0,364.4L479.8,364.7L480.6,364.9L481.4,363.4L482.2,365.2L483.0,364.3L483.8,362.6L484.6,363.6L485.4,362.8L486.2,362.8L487.0,363.2L487.8,362.5L488.6,363.7L489.4,362.3L490.2,363.6L491.0,362.7L491.8,363.4L492.6,362.2L493.4,362.2L494.2,361.7L495.0,363.1L495.8,363.4L496.6,364.4L497.4,363.8L498.2,363.0L499.0,362.7L499.8,363.3L500.6,363.1L501.4,364.4L502.2,364.2L503.0,362.9L503.8,363.2L504.6,365.0L505.4,364.3L506.2,364.1L507.0,365.5L507.8,364.4L508.6,364.8L509.4,364.9L510.2,363.9L511.0,366.5L511.8,365.1L512.6,366.0L513.4,366.2L514.2,367.7L515.0,367.4L515.8,367.8L516.6,366.8L517.4,368.5L518.2,367.8L519.0,369.6L519.8,370.1L520.6,370.2L521.4,372.3L522.2,371.5L523.0,372.0L523.8,372.2L524.6,372.4L525.4,373.8L526.2,374.4L527.0,373.0L527.8,375.4L528.6,375.5L529.4,376.4L530.2,376.5L531.0,375.8L531.8,376.4L532.6,379.3L533.4,378.6L534.2,377.9L535.0,379.9L535.8,379.9L536.6,379.4L537.4,379.7L538.2,380.8L539.0,382.9L539.8,383.2L540.6,383.7L541.4,384.8L542.2,385.6L543.0,384.2L543.8,386.2L544.6,386.5L545.4,386.8L546.2,388.0L547.0,388.9L547.8,389.5L548.6,389.3L549.4,390.6L550.2,393.2L551.0,391.5L551.8,391.7L552.6,393.8L553.4,394.7L554.2,395.3L555.0,394.8L555.8,397.0L556.6,396.3L557.4,396.7L558.2,397.8L559.0,398.8L559.8,400.0L560.6,400.6L561.4,400.8L562.2,402.1L563.0,402.2L563.8,403.4L564.6,402.4L565.4,402.9L566.2,405.2L567.0,404.3L567.8,405.7L568.6,406.5L569.4,406.9L570.2,407.6L571.0,409.5L571.8,407.4L572.6,410.4L573.4,412.0L574.2,411.1L575.0,411.7L575.8,412.8L576.6,414.2L577.4,412.7L578.2,414.2L579.0,414.7L579.8,415.8L580.6,416.2L581.4,417.1L582.2,417.0L583.0,418.0L583.8,418.1L584.6,418.7L585.4,419.7L586.2,420.3L587.0,420.3L587.8,422.7L588.6,422.2L589.4,422.0L590.2,424.2L591.0,423.6L591.8,425.1L592.6,425.4L593.4,426.1L594.2,426.7L595.0,426.8L595.8,427.8L596.6,429.7L597.4,427.6L598.2,429.7L599.0,430.5L599.8,430.2L600.6,430.6L601.4,433.5L602.2,432.5L603.0,434.7L603.8,434.3L604.6,434.6L605.4,435.5L606.2,436.3L607.0,437.2L607.8,437.4L608.6,437.9L609.4,438.5L610.2,439.9L611.0,440.2L611.8,439.8L612.6,440.6L613.4,441.9L614.2,442.0L615.0,442.8L615.8,443.2L616.6,444.3L617.4,445.4L618.2,446.4L619.0,446.6L619.8,448.5L620.6,448.0L621.4,450.6L622.2,450.1L623.0,450.5L623.8,450.7L624.6,450.1L625.4,452.5L626.2,453.4L627.0,455.3L627.8,454.2L628.6,456.9L629.4,456.5L630.2,457.9L631.0,456.9L631.8,459.3L632.6,459.9L633.4,461.3L634.2,461.9L635.0,462.1L635.8,464.2L636.6,465.0L637.4,465.9L638.2,467.0L639.0,468.0L639.8,468.4L640.6,468.6L641.4,469.6L642.2,472.1L643.0,472.7L643.8,473.4L644.6,474.2L645.4,475.4L646.2,476.5L647.0,477.3L647.8,478.2L648.6,480.7L649.4,480.8L650.2,481.4L651.0,482.1L651.8,483.5L652.6,485.3L653.4,486.4L654.2,487.0L655.0,488.3L655.8,489.2L656.6,489.9L657.4,492.2L658.2,492.9L659.0,495.0L659.8,494.6L660.6,496.1L661.4,497.7L662.2,498.3L663.0,498.9L663.8,500.2L664.6,501.9L665.4,503.1L666.2,504.1L667.0,505.7L667.8,506.8L668.6,507.6L669.4,508.7L670.2,509.7L671.0,511.1L671.8,512.4L672.6,513.2L673.4,514.4L674.2,515.2L675.0,515.9L675.8,517.1L676.6,518.9L677.4,519.9L678.2,521.4L679.0,521.8L679.8,523.2L680.6,524.4L681.4,525.3L682.2,525.7L683.0,526.9L683.8,528.0L684.6,528.5L685.4,530.0L686.2,531.2L687.0,531.6L687.8,533.4L688.6,533.5L689.4,534.4L690.2,535.2L691.0,535.9L691.8,537.1L692.1,537.3"/>
<path class="cv" stroke="#008000" d="M148.6,471.8L149.4,470.5L150.2,468.7L151.0,466.9L151.8,466.4L152.6,463.7L153.4,461.3L154.2,460.5L155.0,457.7L155.8,457.4L156.6,455.7L157.4,453.0L158.2,451.3L159.0,450.1L159.8,448.3L160.6,446.1L161.4,445.3L162.2,442.1L163.0,441.4L163.8,439.8L164.6,438.2L165.4,437.0L166.2,434.4L167.0,433.9L167.8,431.8L168.6,429.9L169.4,427.8L170.2,426.4L171.0,425.8L171.8,423.4L172.6,422.5L173.4,421.6L174.2,420.1L175.0,418.9L175.8,416.2L176.6,414.1L177.4,414.1L178.2,412.2L179.0,411.3L179.8,409.1L180.6,408.5L181.4,406.9L182.2,405.4L183.0,403.9L183.8,402.5L184.6,401.0L185.4,399.7L186.2,399.0L187.0,396.6L187.8,397.0L188.6,394.5L189.4,394.1L190.2,392.1L191.0,390.8L191.8,391.4L192.6,388.5L193.4,386.7L194.2,386.1L195.0,385.3L195.8,386.2L196.6,383.7L197.4,383.3L198.2,380.9L199.0,381.1L199.8,380.4L200.6,380.5L201.4,377.7L202.2,377.9L203.0,376.9L203.8,375.1L204.6,375.2L205.4,374.3L206.2,372.0L207.0,373.6L207.8,372.9L208.6,371.5L209.4,370.2L210.2,371.9L211.0,370.4L211.8,370.5L212.6,370.3L213.4,368.2L214.2,368.8L215.0,367.5L215.8,367.3L216.6,366.8L217.4,366.5L218.2,367.0L219.0,365.9L219.8,365.3L220.6,364.9L221.4,365.1L222.2,363.8L223.0,363.8L223.8,363.9L224.6,363.3L225.4,363.4L226.2,362.8L227.0,364.7L227.8,364.0L228.6,363.1L229.4,362.5L230.2,364.2L231.0,362.5L231.8,362.1L232.6,362.3L233.4,362.2L234.2,363.0L235.0,361.7L235.8,363.4L236.6,360.9L237.4,362.1L238.2,360.7L239.0,362.9L239.8,361.1L240.6,361.3L241.4,362.1L242.2,362.4L243.0,360.5L243.8,361.1L244.6,360.2L245.4,361.5L246.2,361.3L247.0,361.1L247.8,360.9L248.6,361.2L249.4,360.9L250.2,362.0L251.0,362.8L251.8,360.0L252.6,361.6L253.4,361.4L254.2,362.2L255.0,361.0L255.8,361.7L256.6,361.1L257.4,362.5L258.2,362.1L259.0,361.9L259.8,362.4L260.6,361.9L261.4,360.9L262.2,362.7L263.0,362.5L263.8,362.2L264.6,363.1L265.4,363.4L266.2,361.5L267.0,361.8L267.8,363.7L268.6,363.6L269.4,361.9L270.2,361.6L271.0,362.0L271.8,362.1L272.6,361.3L273.4,362.6L274.2,361.6L275.0,361.6L275.8,363.4L276.6,362.1L277.4,362.6L278.2,363.1L279.0,363.3L279.8,362.4L280.6,362.7L281.4,362.0L282.2,364.1L283.0,363.2L283.8,361.7L284.6,362.6L285.4,363.2L286.2,363.0L287.0,364.1L287.8,363.7L288.6,362.1L289.4,362.4L290.2,361.4L291.0,362.7L291.8,362.6L292.6,364.6L293.4,362.5L294.2,360.6L295.0,361.8L295.8,362.4L296.6,361.2L297.4,361.5L298.2,361.9L299.0,362.4L299.8,361.9L300.6,361.3L301.4,362.6L302.2,361.5L303.0,361.5L303.8,360.7L304.6,361.2L305.4,362.3L306.2,360.4L307.0,361.6L307.8,362.2L308.6,361.2L309.4,361.6L310.2,360.5L311.0,362.4L311.8,362.1L312.6,361.4L313.4,359.7L314.2,360.2L315.0,361.8L315.8,362.3L316.6,361.0L317.4,361.7L318.2,360.1L319.0,360.4L319.8,360.5L320.6,360.7L321.4,359.0L322.2,361.0L323.0,361.2L323.8,359.1L324.6,358.8L325.4,360.1L326.2,359.2L327.0,357.7L327.8,360.2L328.6,359.6L329.4,358.9L330.2,361.0L331.0,359.2L331.8,358.4L332.6,359.0L333.4,357.9L334.2,358.1L335.0,358.9L335.8,358.0L336.6,358.0L337.4,359.6L338.2,358.8L339.0,358.6L339.8,358.3L340.6,358.1L341.4,358.8L342.2,357.4L343.0,358.9L343.8,356.4L344.6,356.9L345.4,355.8L346.2,356.5L347.0,357.1L347.8,357.7L348.6,355.8L349.4,356.3L350.2,355.8L351.0,355.3L351.8,354.8L352.6,355.7L353.4,354.1L354.2,355.5L355.0,355.3L355.8,354.6L356.6,354.1L357.4,353.6L358.2,356.2L359.0,353.4L359.8,355.7L360.6,354.7L361.4,353.8L362.2,353.0L363.0,354.6L363.8,355.1L364.6,352.7L365.4,353.1L366.2,354.1L367.0,353.3L367.8,354.6L368.6,352.3L369.4,353.0L370.2,351.4L371.0,354.1L371.8,351.5L372.6,350.1L373.4,351.8L374.2,351.6L375.0,353.2L375.8,351.1L376.6,351.3L377.4,351.7L378.2,352.4L379.0,350.8L379.8,351.6L380.6,351.0L381.4,350.2L382.2,350.4L383.0,350.2L383.8,349.3L384.6,351.0L385.4,348.6L386.2,350.7L387.0,350.4L387.8,349.3L388.6,348.6L389.4,349.0L390.2,349.4L391.0,349.6L391.8,349.0L392.6,349.5L393.4,348.1L394.2,348.6L395.0,347.0L395.8,348.8L396.6,348.2L397.4,347.6L398.2,348.8L399.0,348.3L399.8,345.2L400.6,347.5L401.4,346.1L402.2,348.1L403.0,349.2L403.8,346.5L404.6,346.9L405.4,346.5L406.2,346.9L407.0,347.1L407.8,347.5L408.6,345.4L409.4,347.5L410.2,345.2L411.0,346.1L411.8,346.8L412.6,346.3L413.4,344.7L414.2,344.8L415.0,344.9L415.8,345.1L416.6,346.0L417.4,343.8L418.2,345.2L419.0,345.2L419.8,345.0L420.6,344.8L421.4,345.6L422.2,344.6L423.0,344.8L423.8,344.4L424.6,345.3L425.4,342.0L426.2,344.6L427.0,343.2L427.8,343.0L428.6,342.3L429.4,341.4L430.2,342.5L431.0,342.1L431.8,343.0L432.6,341.2L433.4,343.6L434.2,342.5L435.0,341.9L435.8,341.3L436.6,341.1L437.4,340.7L438.2,341.1L439.0,341.5L439.8,341.2L440.6,340.0L441.4,340.9L442.2,340.2L443.0,341.0L443.8,342.4L444.6,341.2L445.4,340.2L446.2,339.0L447.0,339.0L447.8,338.7L448.6,340.7L449.4,339.3L450.2,339.9L451.0,339.2L451.8,339.7L452.6,340.8L453.4,338.9L454.2,339.1L455.0,338.6L455.8,339.9L456.6,338.2L457.4,338.0L458.2,337.7L459.0,337.6L459.8,339.2L460.6,341.0L461.4,337.8L462.2,339.4L463.0,338.7L463.8,337.5L464.6,338.1L465.4,338.1L466.2,337.7L467.0,339.9L467.8,336.5L468.6,338.5L469.4,338.4L470.2,337.6L471.0,338.2L471.8,338.8L472.6,338.2L473.4,338.4L474.2,338.6L475.0,336.2L475.8,339.3L476.6,340.0L477.4,338.8L478.2,338.9L479.0,336.8L479.8,337.9L480.6,337.3L481.4,337.6L482.2,339.0L483.0,337.4L483.8,338.1L484.6,336.6L485.4,338.2L486.2,338.4L487.0,337.8L487.8,337.9L488.6,340.2L489.4,337.6L490.2,337.8L491.0,338.1L491.8,340.0L492.6,340.9L493.4,339.4L494.2,338.6L495.0,339.0L495.8,340.4L496.6,338.8L497.4,341.0L498.2,341.2L499.0,340.1L499.8,340.8L500.6,341.0L501.4,341.9L502.2,339.8L503.0,342.0L503.8,340.8L504.6,340.6L505.4,341.6L506.2,341.5L507.0,341.1L507.8,340.8L508.6,341.6L509.4,343.9L510.2,344.5L511.0,343.6L511.8,344.3L512.6,343.1L513.4,343.7L514.2,344.3L515.0,343.4L515.8,343.7L516.6,344.9L517.4,344.8L518.2,344.5L519.0,346.0L519.8,345.7L520.6,347.1L521.4,346.5L522.2,346.5L523.0,347.2L523.8,347.2L524.6,347.1L525.4,347.6L526.2,348.9L527.0,349.1L527.8,349.9L528.6,347.7L529.4,349.1L530.2,349.4L531.0,350.2L531.8,349.9L532.6,350.2L533.4,351.6L534.2,351.4L535.0,350.5L535.8,353.0L536.6,353.0L537.4,351.9L538.2,353.4L539.0,352.4L539.8,354.3L540.6,353.4L541.4,353.2L542.2,353.9L543.0,353.9L543.8,354.9L544.6,355.2L545.4,355.4L546.2,355.2L547.0,352.9L547.8,356.3L548.6,354.9L549.4,357.0L550.2,358.0L551.0,357.6L551.8,357.4L552.6,357.8L553.4,358.1L554.2,358.1L555.0,358.4L555.8,358.4L556.6,360.4L557.4,359.7L558.2,360.8L559.0,360.1L559.8,360.7L560.6,360.8L561.4,361.6L562.2,362.2L563.0,362.0L563.8,361.6L564.6,361.8L565.4,364.1L566.2,362.8L567.0,363.1L567.8,364.8L568.6,364.9L569.4,364.7L570.2,364.3L571.0,366.8L571.8,365.6L572.6,366.0L573.4,365.8L574.2,365.1L575.0,365.5L575.8,367.3L576.6,367.6L577.4,367.5L578.2,367.1L579.0,367.2L579.8,368.5L580.6,367.9L581.4,370.2L582.2,370.7L583.0,372.5L583.8,371.3L584.6,370.5L585.4,370.7L586.2,369.0L587.0,371.7L587.8,372.4L588.6,373.8L589.4,373.9L590.2,374.3L591.0,374.4L591.8,375.2L592.6,376.3L593.4,374.8L594.2,375.7L595.0,375.5L595.8,378.3L596.6,378.6L597.4,378.6L598.2,377.6L599.0,379.2L599.8,379.4L600.6,380.2L601.4,380.6L602.2,381.7L603.0,381.5L603.8,383.1L604.6,383.2L605.4,383.4L606.2,384.1L607.0,384.5L607.8,386.1L608.6,385.9L609.4,387.0L610.2,387.2L611.0,387.0L611.8,389.5L612.6,388.8L613.4,390.8L614.2,391.3L615.0,390.6L615.8,391.9L616.6,393.0L617.4,393.5L618.2,394.1L619.0,396.3L619.8,396.5L620.6,397.8L621.4,398.1L622.2,399.5L623.0,399.6L623.8,401.1L624.6,402.4L625.4,403.0L626.2,403.6L627.0,404.1L627.8,406.0L628.6,407.2L629.4,407.8L630.2,408.4L631.0,410.4L631.8,412.8L632.6,411.9L633.4,413.5L634.2,414.6L635.0,413.7L635.8,416.7L636.6,417.2L637.4,419.8L638.2,419.8L639.0,420.7L639.8,422.2L640.6,423.7L641.4,424.4L642.2,425.9L643.0,426.3L643.8,428.3L644.6,430.2L645.4,432.2L646.2,432.6L647.0,433.6L647.8,435.5L648.6,436.7L649.4,438.4L650.2,439.3L651.0,439.9L651.8,441.5L652.6,442.7L653.4,444.2L654.2,445.4L655.0,446.2L655.8,446.8L656.6,449.0L657.4,449.6L658.2,452.2L659.0,453.5L659.8,453.9L660.6,456.6L661.4,458.1L662.2,459.0L663.0,461.3L663.8,462.8L664.6,462.4L665.4,465.0L666.2,466.1L667.0,467.4L667.8,469.1L668.6,469.5L669.4,471.0L670.2,472.2L671.0,473.6L671.8,475.2L672.6,475.9L673.4,477.4L674.2,479.6L675.0,480.5L675.8,482.0L676.6,482.2L677.4,484.0L678.2,485.4L679.0,486.9L679.8,487.9L680.6,489.8L681.4,490.6L682.2,491.8L683.0,493.0L683.8,494.5L684.6,495.1L685.4,496.9L686.2,497.7L687.0,498.7L687.8,499.7L688.6,501.0L689.4,502.3L690.2,503.3L691.0,504.0L691.8,505.2L692.6,505.8L692.9,506.3"/>
</g>
<rect class="ax" x="100.5" y="322.5" width="620.0" height="218.0"/>
<path d="M178.5,540.0v-5.56M178.5,323.0v5.56M255.5,540.0v-5.56M255.5,323.0v5.56M333.5,540.0v-5.56M333.5,323.0v5.56M410.5,540.0v-5.56M410.5,323.0v5.56M488.5,540.0v-5.56M488.5,323.0v5.56M565.5,540.0v-5.56M565.5,323.0v5.56M643.5,540.0v-5.56M643.5,323.0v5.56M101.0,513.5h5.56M720.0,513.5h-5.56M101.0,485.5h5.56M720.0,485.5h-5.56M101.0,458.5h5.56M720.0,458.5h-5.56M101.0,431.5h5.56M720.0,431.5h-5.56M101.0,404.5h5.56M720.0,404.5h-5.56M101.0,376.5h5.56M720.0,376.5h-5.56M101.0,349.5h5.56M720.0,349.5h-5.56" stroke="#4a4a4a" stroke-width="1" fill="none"/>
<text class="tk" x="99.70" y="556.80" text-anchor="middle">1398</text>
<text class="tk" x="176.80" y="556.80" text-anchor="middle">1400</text>
<text class="tk" x="254.70" y="556.80" text-anchor="middle">1402</text>
<text class="tk" x="331.80" y="556.80" text-anchor="middle">1404</text>
<text class="tk" x="409.70" y="556.80" text-anchor="middle">1406</text>
<text class="tk" x="486.80" y="556.80" text-anchor="middle">1408</text>
<text class="tk" x="564.70" y="556.80" text-anchor="middle">1410</text>
<text class="tk" x="641.80" y="556.80" text-anchor="middle">1412</text>
<text class="tk" x="719.70" y="556.80" text-anchor="middle">1414</text>
<text class="tk yk" x="93.15" y="545.50" text-anchor="end">50</text>
<text class="tk yk" x="93.15" y="517.50" text-anchor="end">60</text>
<text class="tk yk" x="93.15" y="490.50" text-anchor="end">70</text>
<text class="tk yk" x="93.15" y="463.50" text-anchor="end">80</text>
<text class="tk yk" x="94.15" y="435.50" text-anchor="end">90</text>
<text class="tk yk" x="94.15" y="408.50" text-anchor="end">100</text>
<text class="tk yk" x="94.15" y="381.50" text-anchor="end">110</text>
<text class="tk yk" x="94.15" y="354.50" text-anchor="end">120</text>
<text class="tk yk" x="94.15" y="326.50" text-anchor="end">130</text>
<rect class="ax" x="589.5" y="327.5" width="125" height="35" style="fill:#fff"/>
<path d="M596.9,336.5H614.1" stroke="#ff0000" stroke-width="1.3" fill="none"/>
<text class="lg" x="624.2" y="339.2">XX2 Tsys92.39</text>
<path d="M596.9,351.5H614.1" stroke="#008000" stroke-width="1.3" fill="none"/>
<text class="lg" x="624.2" y="354.8">YY2 Tsys110.45</text>
<text class="ti" x="410.2" y="52.6" text-anchor="middle">gl8, ID:151498 Calibrated On-source spectrum</text>
<text class="lb" x="409.8" y="576" text-anchor="middle">Frequency (MHz)</text>
<text class="lb" transform="translate(56.2,169) rotate(-90)" text-anchor="middle">Power in Kelvin</text>
</svg>
</body></html>
